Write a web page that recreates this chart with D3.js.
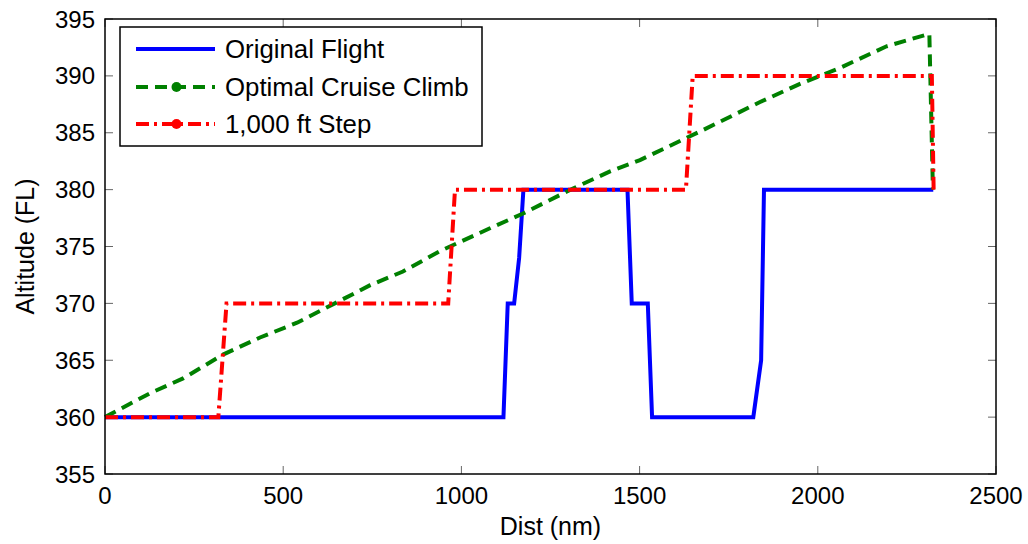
<!DOCTYPE html>
<html><head><meta charset="utf-8">
<script src="https://cdn.jsdelivr.net/npm/d3@7"></script>
<style>body{margin:0;background:#fff}svg{display:block}text{font-family:"Liberation Sans",Arial,sans-serif;fill:#000}</style>
</head><body>
<script>
const xTicks = [0, 500, 1000, 1500, 2000, 2500];
const yTicks = [355, 360, 365, 370, 375, 380, 385, 390, 395];

const originalDist = [0, 1118, 1130, 1148, 1162, 1174, 1466, 1478, 1523, 1535, 1819, 1841, 1849, 2324];
const originalAlt  = [360, 360, 370, 370, 374, 380, 380, 370, 370, 360, 360, 365, 380, 380];

const cruiseDist = [0, 90, 126, 219, 331, 435, 539, 651, 744, 836, 940, 1080, 1173, 1313, 1417, 1501, 1669, 1838, 1950, 2062, 2193, 2313, 2323];
const cruiseAlt  = [360, 361.5, 362.1, 363.4, 365.5, 367.0, 368.3, 370.1, 371.6, 372.8, 374.6, 376.6, 377.9, 380.1, 381.6, 382.6, 385.1, 387.7, 389.3, 390.7, 392.6, 393.7, 380];

const stepDist = [0, 318, 341, 963, 982, 1630, 1649, 2320, 2325];
const stepAlt  = [360, 360, 370, 370, 380, 380, 390, 390, 380];

const seriesNames = ["Original Flight", "Optimal Cruise Climb", "1,000 ft Step"];

const W = 1028, H = 544;
const L = 105, R = 996, T = 19, B = 474;
const svg = d3.select("body").append("svg").attr("width", W).attr("height", H);
const x = d3.scaleLinear().domain([0, 2500]).range([L, R]);
const y = d3.scaleLinear().domain([355, 395]).range([B, T]);

const series = [
  {name: seriesNames[0], d: originalDist, a: originalAlt, color: "#0000ff", dash: null, marker: false},
  {name: seriesNames[1], d: cruiseDist, a: cruiseAlt, color: "#008000", dash: "12,7", marker: true},
  {name: seriesNames[2], d: stepDist, a: stepAlt, color: "#ff0000", dash: "13,5,3,5", marker: true}
];

// ticks (inward)
const tk = 8;
const tg = svg.append("g").attr("stroke", "#666").attr("stroke-width", 1);
xTicks.forEach(v => {
  tg.append("line").attr("x1", x(v)).attr("x2", x(v)).attr("y1", B).attr("y2", B - tk);
  tg.append("line").attr("x1", x(v)).attr("x2", x(v)).attr("y1", T).attr("y2", T + tk);
});
yTicks.forEach(v => {
  tg.append("line").attr("x1", L).attr("x2", L + tk).attr("y1", y(v)).attr("y2", y(v));
  tg.append("line").attr("x1", R).attr("x2", R - tk).attr("y1", y(v)).attr("y2", y(v));
});

// lines
const line = d3.line();
series.forEach(s => {
  const pts = s.d.map((v, i) => [x(v), y(s.a[i])]);
  const p = svg.append("path").attr("d", line(pts)).attr("fill", "none")
    .attr("stroke", s.color).attr("stroke-width", 4).attr("stroke-linejoin", "miter");
  if (s.dash) p.attr("stroke-dasharray", s.dash);
});

// box
svg.append("rect").attr("x", L).attr("y", T).attr("width", R - L).attr("height", B - T)
  .attr("fill", "none").attr("stroke", "#000").attr("stroke-width", 1.5);

// tick labels
xTicks.forEach(v => {
  svg.append("text").attr("x", x(v)).attr("y", 504).attr("text-anchor", "middle")
    .attr("font-size", 24).text(v);
});
yTicks.forEach(v => {
  svg.append("text").attr("x", 95).attr("y", y(v) + 8.5).attr("text-anchor", "end")
    .attr("font-size", 24).text(v);
});

// axis labels
svg.append("text").attr("x", (L + R) / 2).attr("y", 535).attr("text-anchor", "middle")
  .attr("font-size", 25).text("Dist (nm)");
svg.append("text").attr("transform", `translate(34,${(T + B) / 2}) rotate(-90)`)
  .attr("text-anchor", "middle").attr("font-size", 25).text("Altitude (FL)");

// legend
const lg = svg.append("g");
lg.append("rect").attr("x", 120).attr("y", 27).attr("width", 362).attr("height", 119)
  .attr("fill", "#fff").attr("stroke", "#000").attr("stroke-width", 1.5);
const rows = [49, 87, 124];
series.forEach((s, i) => {
  const ly = rows[i];
  const p = lg.append("line").attr("x1", 136).attr("x2", 215).attr("y1", ly).attr("y2", ly)
    .attr("stroke", s.color).attr("stroke-width", 4);
  if (s.dash) p.attr("stroke-dasharray", s.dash);
  if (s.marker) lg.append("circle").attr("cx", 176.5).attr("cy", ly).attr("r", 5).attr("fill", s.color);
  lg.append("text").attr("x", 225).attr("y", ly + 9).attr("font-size", 25.8).text(s.name);
});
</script>
</body></html>
